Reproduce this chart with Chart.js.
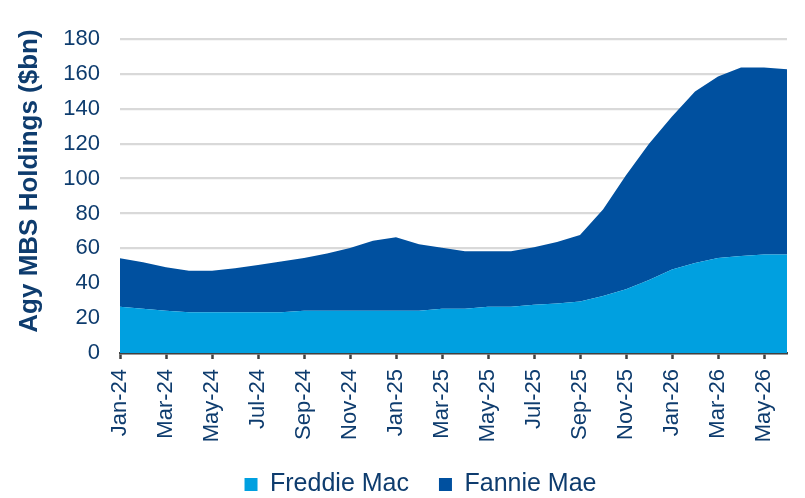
<!DOCTYPE html>
<html>
<head>
<meta charset="utf-8">
<script src="https://cdn.jsdelivr.net/npm/chart.js@4.4.1/dist/chart.umd.min.js"></script>
<style>
  html, body { margin: 0; padding: 0; background: #ffffff; }
  #wrap { width: 805px; height: 498px; }
</style>
</head>
<body>
<div id="wrap"><canvas id="c" width="805" height="498"></canvas></div>
<script>
const months = ['Jan-24','Feb-24','Mar-24','Apr-24','May-24','Jun-24','Jul-24','Aug-24','Sep-24','Oct-24','Nov-24','Dec-24',
                'Jan-25','Feb-25','Mar-25','Apr-25','May-25','Jun-25','Jul-25','Aug-25','Sep-25','Oct-25','Nov-25','Dec-25',
                'Jan-26','Feb-26','Mar-26','Apr-26','May-26','Jun-26'];
const freddieMac = [26.5,25.3,24.2,23.4,23.4,23.4,23.4,23.4,24.2,24.2,24.2,24.2,24.2,24.2,25.3,
                    25.3,26.5,26.5,27.6,28.4,29.5,32.7,36.6,41.9,47.8,51.6,54.5,55.6,56.4,56.4];
const fannieMae = [27.8,26.7,24.9,23.8,23.8,25.2,27.1,29.0,30.3,32.9,36.0,40.2,42.1,38.1,35.0,
                   33.0,31.8,31.8,33.0,35.2,38.1,49.6,65.3,78.1,87.8,98.3,104.0,108.0,107.2,106.2];
const yTicks = [0,20,40,60,80,100,120,140,160,180];
const yTitle = 'Agy MBS Holdings ($bn)';

const TEXT = '#0e3c6e';
const FONT = "'Liberation Sans', Arial, sans-serif";

const yTitlePlugin = {
  id: 'yTitle',
  afterDraw(chart) {
    const ctx = chart.ctx;
    ctx.save();
    ctx.translate(30, 181);
    ctx.rotate(-Math.PI / 2);
    ctx.font = "bold 26px " + FONT;
    ctx.fillStyle = TEXT;
    ctx.textAlign = 'center';
    ctx.textBaseline = 'middle';
    ctx.fillText(yTitle, 0, 0);
    ctx.restore();
  }
};

new Chart(document.getElementById('c'), {
  type: 'line',
  data: {
    labels: months,
    datasets: [
      { label: 'Freddie Mac', data: freddieMac, backgroundColor: '#00a0e0', borderColor: '#00a0e0',
        borderWidth: 0, pointRadius: 0, fill: 'origin', tension: 0 },
      { label: 'Fannie Mae', data: fannieMae, backgroundColor: '#00509f', borderColor: '#00509f',
        borderWidth: 0, pointRadius: 0, fill: '-1', tension: 0 }
    ]
  },
  options: {
    responsive: false,
    animation: false,
    devicePixelRatio: 1,
    layout: { padding: { top: 39, right: 18, bottom: -9, left: 54 } },
    plugins: {
      legend: {
        position: 'bottom',
        labels: { boxWidth: 13, boxHeight: 13, padding: 30, color: TEXT, font: { family: FONT, size: 25 } }
      },
      tooltip: { enabled: false }
    },
    scales: {
      x: {
        offset: false,
        afterFit: (s) => { s.height = 89; },
        grid: { display: true, drawOnChartArea: false, drawTicks: true, tickLength: 6, tickWidth: 2.5, tickColor: '#404040' },
        border: { display: true, color: '#404040', width: 2.5 },
        ticks: {
          autoSkip: false, maxRotation: 90, minRotation: 90, padding: 10, color: TEXT,
          font: { family: FONT, size: 22 },
          callback: function(v, i) { return i % 2 === 0 ? months[i] : null; }
        }
      },
      y: {
        stacked: true,
        min: 0, max: 180,
        afterFit: (s) => { s.width = 66; },
        afterBuildTicks: (s) => { s.ticks = yTicks.map(v => ({ value: v })); },
        grid: { color: '#d9d9d9', lineWidth: 2.2, drawTicks: false },
        border: { display: false },
        ticks: { padding: 20, color: TEXT, font: { family: FONT, size: 22 } }
      }
    }
  },
  plugins: [yTitlePlugin]
});
</script>
</body>
</html>
